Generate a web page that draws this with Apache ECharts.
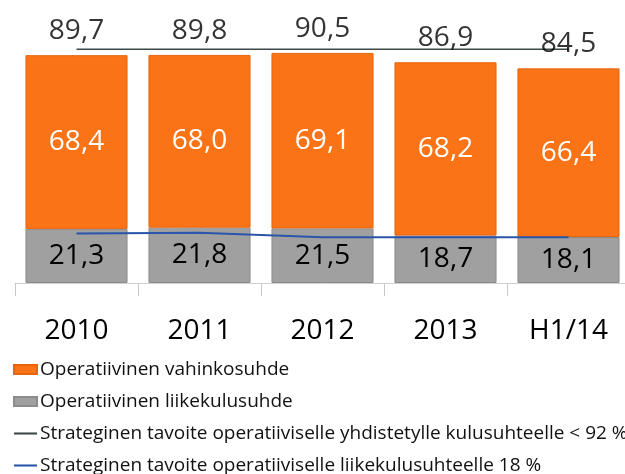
<!DOCTYPE html>
<html>
<head>
<meta charset="utf-8">
<script src="https://cdn.jsdelivr.net/npm/echarts@6/dist/echarts.min.js"></script>
<style>
html,body{margin:0;padding:0;background:#fff;}
#chart{width:625px;height:474px;}
</style>
</head>
<body>
<div id="chart"></div>
<script>
var categories = ['2010', '2011', '2012', '2013', 'H1/14'];
var vahinkosuhde = [68.4, 68.0, 69.1, 68.2, 66.4];
var liikekulusuhde = [21.3, 21.8, 21.5, 18.7, 18.1];
var totals = [89.7, 89.8, 90.5, 86.9, 84.5];
var targetCombined = [92, 92, 92, 92, 92];
var targetExpense = [19.5, 19.8, 18.0, 18.0, 18.0];

var names = [
  'Operatiivinen vahinkosuhde',
  'Operatiivinen liikekulusuhde',
  'Strateginen tavoite operatiiviselle yhdistetylle kulusuhteelle < 92 %',
  'Strateginen tavoite operatiiviselle liikekulusuhteelle 18 %'
];

function fmt(v) { return v.toFixed(1).replace('.', ','); }

var FONT = 'Open Sans';
var LINE_ICON = 'path://M0,0 L22,0 L22,2 L0,2 Z';
var chart = echarts.init(document.getElementById('chart'), null, {renderer: 'canvas'});
chart.setOption({
  animation: false,
  backgroundColor: '#ffffff',
  textStyle: {fontFamily: FONT},
  grid: {left: 15, width: 615, top: 29, height: 254, containLabel: false, outerBoundsMode: 'none'},
  legend: {
    orient: 'vertical', left: 8, top: 355, height: 160, itemWidth: 23, itemHeight: 9, itemGap: 13,
    symbolKeepAspect: true,
    textStyle: {fontFamily: FONT, fontSize: 19, color: '#111111', padding: [0, 0, 0, -2]},
    data: [
      {name: names[0], icon: 'rect'},
      {name: names[1], icon: 'rect'},
      {name: names[2], icon: LINE_ICON},
      {name: names[3], icon: LINE_ICON}
    ]
  },
  xAxis: {
    type: 'category', data: categories,
    axisLine: {lineStyle: {color: '#d0d0d0', width: 1}},
    axisTick: {show: true, length: 13, lineStyle: {color: '#c8c8c8'}},
    axisLabel: {fontFamily: FONT, fontSize: 28, color: '#000000', margin: 34}
  },
  yAxis: {type: 'value', min: 0, max: 100, show: false, splitLine: {show: false}},
  series: [
    {
      name: names[1], type: 'bar', stack: 'a', data: liikekulusuhde, barCategoryGap: '17%',
      itemStyle: {color: '#a0a0a0', borderColor: '#8c8c8c', borderWidth: 1},
      label: {show: true, position: 'inside', fontFamily: FONT, fontSize: 28, color: '#000000', formatter: function (p) { return fmt(p.value); }}
    },
    {
      name: names[0], type: 'bar', stack: 'a', data: vahinkosuhde,
      itemStyle: {color: '#fa7417', borderColor: '#e8650c', borderWidth: 1},
      label: {show: true, position: 'inside', fontFamily: FONT, fontSize: 28, color: '#ffffff', formatter: function (p) { return fmt(p.value); }}
    },
    {
      name: names[2], type: 'line', data: targetCombined, symbol: 'none', z: 5,
      lineStyle: {color: '#3d4848', width: 1.5}, itemStyle: {color: '#3d4848'}
    },
    {
      name: names[3], type: 'line', data: targetExpense, symbol: 'none', z: 5,
      lineStyle: {color: '#2a55aa', width: 2}, itemStyle: {color: '#2a55aa'}
    },
    {
      name: 'totals', type: 'scatter', data: totals, symbolSize: 0, z: 6,
      itemStyle: {color: 'transparent'},
      label: {show: true, position: 'top', distance: 10, fontFamily: FONT, fontSize: 28, color: '#000000', formatter: function (p) { return fmt(p.value); }}
    }
  ]
});
</script>
</body>
</html>
